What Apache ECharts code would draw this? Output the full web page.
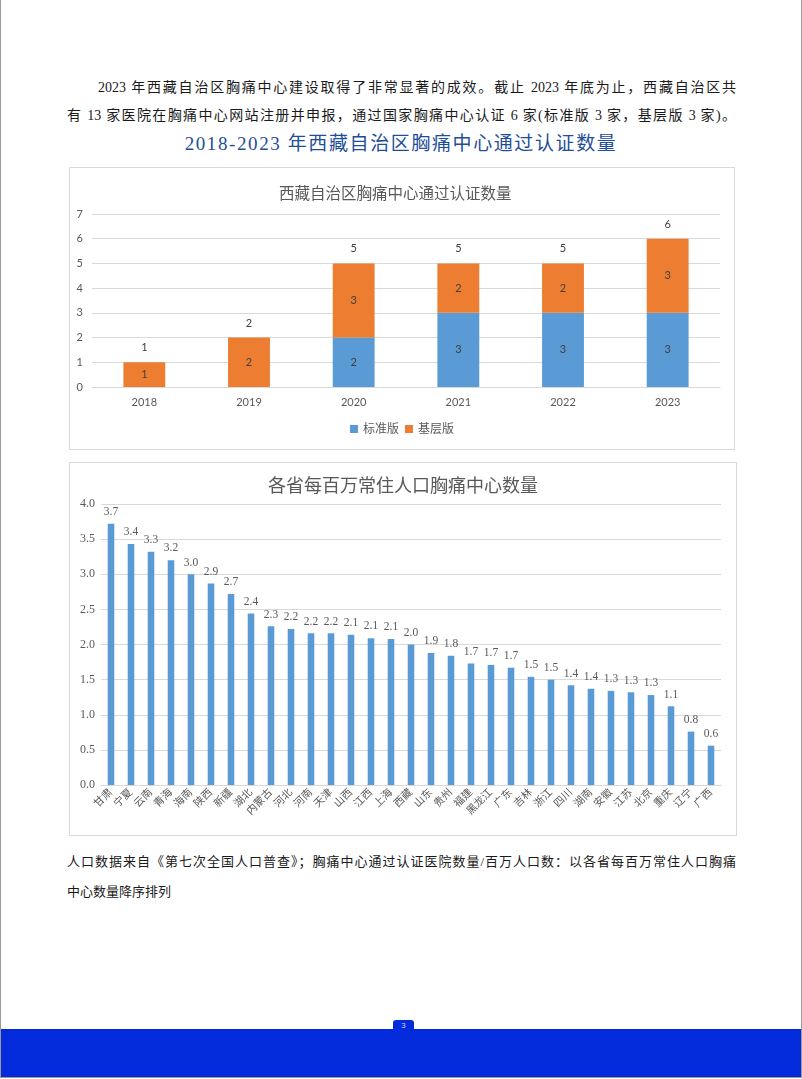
<!DOCTYPE html>
<html>
<head>
<meta charset="utf-8">
<script src="https://cdn.jsdelivr.net/npm/echarts@6/dist/echarts.min.js"></script>
<style>
  html, body { margin: 0; padding: 0; background: #fff; }
  .page {
    position: relative; width: 800px; height: 1077px;
    border: 1px solid #9a9a9a; border-top: none; overflow: hidden;
    font-family: "Liberation Serif", "Noto Sans CJK SC", serif; color: #1a1a1a;
  }
  .line { position: absolute; font-size: 14px; text-align: justify; text-align-last: justify; white-space: nowrap; }
  .heading {
    position: absolute; left: 0; width: 800px; top: 128px; text-align: center;
    font-size: 19px; letter-spacing: 1.6px; color: #1f4e99;
  }
  .box { position: absolute; border: 1px solid #d9d9d9; box-sizing: border-box; }
  .note { position: absolute; font-size: 13px; color: #1a1a1a; }
  .band { position: absolute; left: 0; top: 1029px; width: 800px; height: 48px; background: #032bdb; }
  .tab {
    position: absolute; left: 392px; top: 1020px; width: 21px; height: 12px; background: #032bdb;
    border-radius: 3px 3px 0 0; color: #c8d0ff; font-size: 8px; text-align: center; line-height: 12px;
    font-family: "Liberation Sans", sans-serif;
  }
</style>
</head>
<body>
<div class="page">
  <div class="line" style="left:97px; top:76px; width:638px;">2023 年西藏自治区胸痛中心建设取得了非常显著的成效。截止 2023 年底为止，西藏自治区共</div>
  <div class="line" style="left:66px; top:104px; width:669px;">有 13 家医院在胸痛中心网站注册并申报，通过国家胸痛中心认证 6 家(标准版 3 家，基层版 3 家)。</div>
  <div class="heading">2018-2023 年西藏自治区胸痛中心通过认证数量</div>

  <div class="box" id="certChart" style="left:68px; top:167px; width:666px; height:283px;"></div>
  <div class="box" id="rateChart" style="left:68px; top:462px; width:668px; height:374px;"></div>

  <div class="note" style="left:66px; top:851px; width:669px; text-align:justify; text-align-last:justify; white-space:nowrap;">人口数据来自《第七次全国人口普查》；胸痛中心通过认证医院数量/百万人口数：以各省每百万常住人口胸痛</div>
  <div class="note" style="left:66px; top:881px;">中心数量降序排列</div>

  <div class="band"></div>
  <div class="tab">3</div>
</div>

<script>
// chart 1: certified chest pain centres in Tibet by year
const years = ["2018", "2019", "2020", "2021", "2022", "2023"];
const standardCounts = [0, 0, 2, 3, 3, 3];
const basicCounts = [1, 2, 3, 2, 2, 3];

// chart 2: centres per million residents by province
const provinces = ["甘肃", "宁夏", "云南", "青海", "海南", "陕西", "新疆", "湖北", "内蒙古", "河北",
  "河南", "天津", "山西", "江西", "上海", "西藏", "山东", "贵州", "福建", "黑龙江",
  "广东", "吉林", "浙江", "四川", "湖南", "安徽", "江苏", "北京", "重庆", "辽宁", "广西"];
const ratePerMillion = [3.72, 3.43, 3.32, 3.20, 3.00, 2.87, 2.72, 2.44, 2.26, 2.22,
  2.16, 2.16, 2.14, 2.09, 2.08, 2.00, 1.88, 1.84, 1.73, 1.71,
  1.67, 1.54, 1.50, 1.42, 1.37, 1.34, 1.32, 1.28, 1.12, 0.76, 0.56];

const totals = years.map((y, i) => standardCounts[i] + basicCounts[i]);

const sansFont = "Lato, 'Noto Sans CJK SC', sans-serif";
const serifFont = "'Liberation Serif', 'Noto Sans CJK SC', serif";
const grey = "#595959";

const certChart = echarts.init(document.getElementById("certChart"));
certChart.setOption({
  animation: false,
  title: {
    text: "西藏自治区胸痛中心通过认证数量",
    left: 204,
    top: 13,
    textStyle: { fontSize: 15.5, fontWeight: "normal", color: grey, fontFamily: sansFont }
  },
  legend: {
    data: ["标准版", "基层版"],
    bottom: 9,
    left: "center",
    itemWidth: 8,
    itemHeight: 8,
    itemGap: 6,
    icon: "rect",
    textStyle: { fontSize: 12, color: grey, fontFamily: sansFont }
  },
  grid: { left: 22, right: 14, top: 46, bottom: 62 },
  xAxis: {
    type: "category",
    data: years,
    axisLine: { lineStyle: { color: "#d9d9d9" } },
    axisTick: { show: false },
    axisLabel: { color: grey, fontSize: 11, margin: 10, fontFamily: sansFont }
  },
  yAxis: {
    type: "value",
    min: 0,
    max: 7,
    interval: 1,
    axisLabel: { color: grey, fontSize: 11, margin: 9, fontFamily: sansFont },
    splitLine: { lineStyle: { color: "#d9d9d9" } }
  },
  series: [
    {
      name: "标准版",
      type: "bar",
      stack: "total",
      barWidth: "40%",
      data: standardCounts,
      itemStyle: { color: "#5b9bd5" },
      label: {
        show: true,
        position: "inside",
        color: "#404040",
        fontSize: 11,
        fontFamily: sansFont,
        formatter: p => (p.value ? p.value : "")
      }
    },
    {
      name: "基层版",
      type: "bar",
      stack: "total",
      data: basicCounts,
      itemStyle: { color: "#ed7d31" },
      label: {
        show: true,
        position: "inside",
        color: "#404040",
        fontSize: 11,
        fontFamily: sansFont,
        formatter: p => (p.value ? p.value : "")
      }
    },
    {
      name: "合计",
      type: "bar",
      stack: "total",
      data: years.map(() => 0),
      itemStyle: { color: "transparent" },
      label: {
        show: true,
        position: "top",
        distance: 9,
        color: "#404040",
        fontSize: 11,
        fontFamily: sansFont,
        formatter: p => totals[p.dataIndex]
      }
    }
  ]
});

const rateChart = echarts.init(document.getElementById("rateChart"));
rateChart.setOption({
  animation: false,
  title: {
    text: "各省每百万常住人口胸痛中心数量",
    left: "center",
    top: 9,
    textStyle: { fontSize: 18, fontWeight: "normal", color: grey, fontFamily: sansFont }
  },
  grid: { left: 31, right: 15, top: 41, bottom: 50 },
  xAxis: {
    type: "category",
    data: provinces,
    axisLine: { lineStyle: { color: "#d9d9d9" } },
    axisTick: { show: false },
    axisLabel: { color: grey, fontSize: 10.5, rotate: 45, interval: 0, margin: 6, fontFamily: serifFont }
  },
  yAxis: {
    type: "value",
    min: 0,
    max: 4,
    interval: 0.5,
    axisLabel: { color: grey, fontSize: 12, margin: 6, fontFamily: serifFont, formatter: v => v.toFixed(1) },
    splitLine: { lineStyle: { color: "#d9d9d9" } }
  },
  series: [
    {
      type: "bar",
      barWidth: "33%",
      data: ratePerMillion,
      itemStyle: { color: "#5b9bd5" },
      label: {
        show: true,
        position: "top",
        distance: 6,
        color: grey,
        fontSize: 11.5,
        fontFamily: serifFont,
        formatter: p => p.value.toFixed(1)
      }
    }
  ]
});
</script>
</body>
</html>
